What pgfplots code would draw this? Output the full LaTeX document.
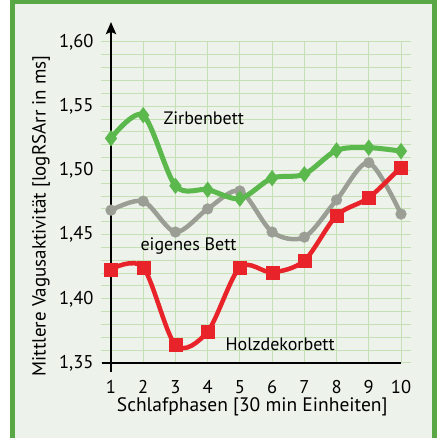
\documentclass[border=0pt]{standalone}
\usepackage{pgfplots}
\pgfplotsset{compat=1.18}
\usetikzlibrary{arrows.meta}
\usepackage{fontspec}
\setmainfont{PT Sans}
\definecolor{frameg}{HTML}{5AA845}
\definecolor{bgc}{HTML}{EDF2EA}
\definecolor{gridc}{HTML}{C5E0B5}
\definecolor{zgreen}{HTML}{5BB84C}
\definecolor{hred}{HTML}{E8242A}
\definecolor{egray}{HTML}{9A9E95}
\begin{document}
\begin{tikzpicture}[x=1pt,y=1pt]
\clip (0,0) rectangle (438,438);
\fill[white] (0,0) rectangle (438,438);
\draw[frameg, line width=5pt, fill=bgc] (12.5,-10) rectangle (434.5,436);
\begin{axis}[
  at={(111pt,75pt)}, anchor=south west,
  scale only axis, width=290pt, height=321pt,
  xmin=1, xmax=10, ymin=1.35, ymax=1.60,
  clip=false,
  axis line style={draw=none},
  xtick={1,...,10},
  ytick={1.35,1.40,1.45,1.50,1.55,1.60},
  minor y tick num=4,
  grid=both,
  major grid style={gridc, line width=1pt},
  minor grid style={gridc, line width=1pt},
  tick align=outside,
  major tick length=10pt, minor tick length=10pt,
  tick style={gridc, line width=1pt},
  xtick style={draw=none},
  /pgf/number format/assume math mode=true,
  yticklabel style={/pgf/number format/.cd, fixed, fixed zerofill, precision=2, use comma, /tikz/.cd, xshift=-4pt},
  xticklabel style={yshift=-4pt},
  tick label style={font=\fontsize{18.5}{20}\selectfont, text=black},
  ylabel={Mittlere Vagusaktivität [logRSArr in ms]},
  xlabel={Schlafphasen [30 min Einheiten]},
  every axis y label/.style={at={(axis description cs:-0.241,0.458)}, rotate=90, anchor=center, font=\fontsize{19}{20}\selectfont},
  every axis x label/.style={at={(axis description cs:0.487,-0.137)}, anchor=center, font=\fontsize{19.5}{20}\selectfont},
]
\addplot[egray, line width=4.5pt, smooth, mark=*, mark size=5.5pt, mark options={solid, line width=0.1pt}]
  coordinates {(1,1.469) (2,1.476) (3,1.452) (4,1.470) (5,1.484) (6,1.452) (7,1.448) (8,1.477) (9,1.506) (10,1.466)};
\addplot[hred, line width=4.5pt, smooth, mark=square*, mark size=6.5pt, mark options={solid, line width=0.1pt}]
  coordinates {(1,1.423) (2,1.4245) (3,1.364) (4,1.3745) (5,1.4245) (6,1.4206) (7,1.4297) (8,1.4648) (9,1.4787) (10,1.5026)};
\addplot[zgreen, line width=5pt, smooth, mark=diamond*, mark size=8pt, mark options={solid, line width=0.1pt}]
  coordinates {(1,1.525) (2,1.543) (3,1.488) (4,1.485) (5,1.478) (6,1.494) (7,1.497) (8,1.5156) (9,1.5177) (10,1.515)};
\draw[black, line width=2.5pt] ([xshift=-9pt]axis cs:1,1.35) -- (axis cs:10,1.35);
\draw[black, line width=2.5pt, -{Stealth[length=12pt,width=10pt,inset=2pt]}] ([yshift=-9pt]axis cs:1,1.35) -- (axis cs:1,1.6156);
\node[anchor=base west, font=\fontsize{18}{20}\selectfont] at (axis cs:2.52,1.536) {Zirbenbett};
\node[anchor=base west, font=\fontsize{18}{20}\selectfont] at (axis cs:1.807,1.4375) {eigenes Bett};
\node[anchor=base west, font=\fontsize{18}{20}\selectfont] at (axis cs:4.445,1.3594) {Holzdekorbett};
\end{axis}
\end{tikzpicture}
\end{document}
